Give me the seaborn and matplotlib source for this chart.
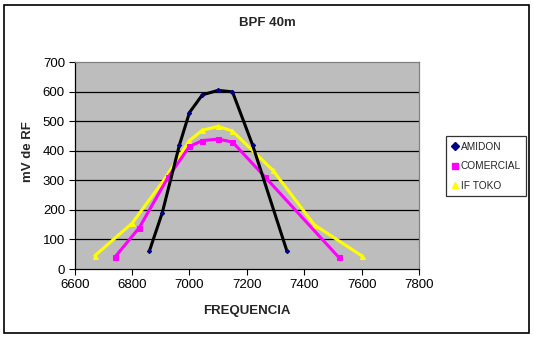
import matplotlib
matplotlib.use("Agg")
import matplotlib.pyplot as plt
from matplotlib.lines import Line2D
from matplotlib.patches import Rectangle
import pandas as pd
import seaborn as sns

# Frequency response of three 40 m band-pass filters
amidon_f = [6860, 6905, 6965, 7000, 7045, 7100, 7150, 7220, 7340]
amidon_mv = [60, 190, 420, 530, 590, 605, 600, 420, 60]

comercial_f = [6740, 6825, 6925, 7000, 7045, 7100, 7150, 7265, 7520]
comercial_mv = [40, 140, 310, 415, 435, 440, 430, 310, 40]

toko_f = [6670, 6800, 6910, 7000, 7045, 7100, 7150, 7290, 7435, 7600]
toko_mv = [45, 155, 300, 435, 470, 483, 467, 335, 150, 45]

series_names = ["AMIDON", "COMERCIAL", "IF TOKO"]
x_ticks = [6600, 6800, 7000, 7200, 7400, 7600, 7800]
y_ticks = [0, 100, 200, 300, 400, 500, 600, 700]

df = pd.concat([
    pd.DataFrame({"f": amidon_f, "mv": amidon_mv, "serie": series_names[0]}),
    pd.DataFrame({"f": comercial_f, "mv": comercial_mv, "serie": series_names[1]}),
    pd.DataFrame({"f": toko_f, "mv": toko_mv, "serie": series_names[2]}),
], ignore_index=True)

sns.set_style("white")
plt.rcParams["font.family"] = ["Liberation Sans", "DejaVu Sans"]

fig = plt.figure(figsize=(5.34, 3.38), dpi=100)
ax = fig.add_axes([0.1399, 0.2041, 0.6447, 0.6115])
ax.set_facecolor("#bdbdbd")

line_colors = {"AMIDON": "black", "COMERCIAL": "#ff00ff", "IF TOKO": "#ffff00"}
marker_styles = {"AMIDON": "D", "COMERCIAL": "s", "IF TOKO": "^"}
marker_colors = {"AMIDON": "#000080", "COMERCIAL": "#ff00ff", "IF TOKO": "#ffff00"}
marker_sizes = {"AMIDON": 2.2, "COMERCIAL": 3.6, "IF TOKO": 3.6}

# draw back to front: yellow, magenta, black on top
for name in ["IF TOKO", "COMERCIAL", "AMIDON"]:
    sub = df[df["serie"] == name]
    sns.lineplot(data=sub, x="f", y="mv", ax=ax, color=line_colors[name],
                 linewidth=2.2, marker=marker_styles[name],
                 markersize=marker_sizes[name],
                 markerfacecolor=marker_colors[name],
                 markeredgecolor=marker_colors[name],
                 sort=False, estimator=None, legend=False, zorder=3)

ax.set_xlim(6600, 7800)
ax.set_ylim(0, 700)
ax.set_xticks(x_ticks)
ax.set_yticks(y_ticks)
ax.set_xticklabels([str(v) for v in x_ticks])
ax.set_yticklabels([str(v) for v in y_ticks])
ax.tick_params(axis="both", direction="out", length=4, width=0.8,
               labelsize=9.5, colors="black", pad=3,
               bottom=True, left=True)

for v in y_ticks[1:-1]:
    ax.axhline(v, color="black", linewidth=0.9, zorder=1)

for side in ["left", "bottom"]:
    ax.spines[side].set_color("black")
    ax.spines[side].set_linewidth(0.9)
for side in ["top", "right"]:
    ax.spines[side].set_color("#808080")
    ax.spines[side].set_linewidth(0.9)

ax.set_xlabel("")
ax.set_ylabel("")
fig.text(247 / 534, 1 - 311 / 338, "FREQUENCIA", ha="center", va="center",
         fontsize=9.5, fontweight="bold")
fig.text(28 / 534, 1 - 152 / 338, "mV de RF", ha="center", va="center",
         rotation=90, fontsize=9.5, fontweight="bold")
fig.text(267 / 534, 1 - 23 / 338, "BPF 40m", ha="center", va="center",
         fontsize=9.5, fontweight="bold")

handles = [Line2D([], [], linestyle="none", marker=marker_styles[n],
                  markersize=4.2 if n != "AMIDON" else 3.8,
                  markerfacecolor=marker_colors[n],
                  markeredgecolor=marker_colors[n]) for n in series_names]
leg = fig.legend(handles, series_names, loc="upper left",
                 bbox_to_anchor=(446 / 534, 1 - 136 / 338),
                 frameon=True, fancybox=False, fontsize=7.3,
                 handlelength=0.7, handletextpad=0.2, borderpad=0.55,
                 borderaxespad=0, labelspacing=0.95)
leg.get_frame().set_edgecolor("black")
leg.get_frame().set_linewidth(0.9)

# outer chart border
fig.patches.append(Rectangle((4 / 534, 1 - 333 / 338), 525 / 534, 328 / 338,
                             transform=fig.transFigure, fill=False,
                             edgecolor="black", linewidth=1.2))

fig.savefig("out.png", dpi=100)
